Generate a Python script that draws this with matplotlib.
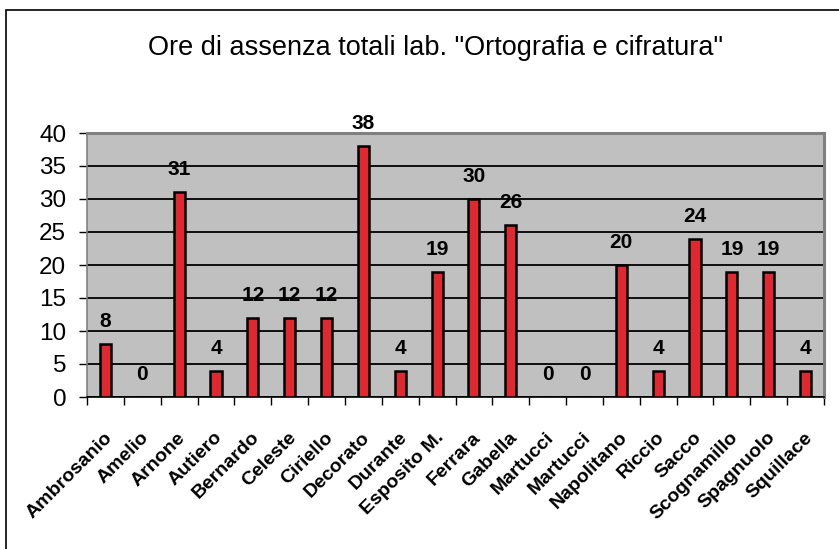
import matplotlib
matplotlib.use("Agg")
import matplotlib.pyplot as plt
from matplotlib.patches import Rectangle
import numpy as np

names = ["Ambrosanio", "Amelio", "Arnone", "Autiero", "Bernardo", "Celeste",
         "Ciriello", "Decorato", "Durante", "Esposito M.", "Ferrara", "Gabella",
         "Martucci", "Martucci", "Napolitano", "Riccio", "Sacco", "Scognamillo",
         "Spagnuolo", "Squillace"]
values = [8, 0, 31, 4, 12, 12, 12, 38, 4, 19, 30, 26, 0, 0, 20, 4, 24, 19, 19, 4]
yticks = [0, 5, 10, 15, 20, 25, 30, 35, 40]
title = 'Ore di assenza totali lab. "Ortografia e cifratura"'

plt.rcParams['font.family'] = ['Liberation Sans', 'DejaVu Sans']

W, H = 839, 549
fig = plt.figure(figsize=(W / 100, H / 100), dpi=100)
ax = fig.add_axes([87 / W, 1 - 397 / H, (824 - 87) / W, (397 - 133) / H])

# outer chart frame
fig.patches.append(Rectangle((6 / W, -0.1), 1.2, 1 - 10 / H + 0.1, transform=fig.transFigure,
                             fill=False, edgecolor='black', linewidth=1.2, clip_on=False))

x = np.arange(len(values))
ax.set_facecolor('#C0C0C0')
ax.set_axisbelow(True)
ax.yaxis.grid(True, color='black', linewidth=1.3)
bars = ax.bar(x, values, width=0.3, color='#DD2A32', edgecolor='black', linewidth=1.8, zorder=3)

for xi, v in zip(x, values):
    ax.annotate(str(v), (xi, v), xytext=(0, 13), textcoords='offset pixels',
                ha='center', va='bottom', fontsize=15, fontweight='bold',
                fontfamily=['Liberation Sans Narrow', 'Liberation Sans'], zorder=4)

ax.set_xlim(-0.5, len(values) - 0.5)
ax.set_ylim(0, 40)
ax.set_yticks(yticks)
ax.set_yticklabels([str(t) for t in yticks], fontsize=17.5)
ax.tick_params(axis='y', length=6, width=1, color='black', pad=9)

ax.set_xticks(np.arange(len(values) + 1) - 0.5)
ax.set_xticklabels([])
ax.tick_params(axis='x', length=6, width=1, color='black')
for xi, n in zip(x, names):
    ax.annotate(n, (xi, 0), xytext=(4, -38), textcoords='offset pixels',
                ha='right', va='center', rotation=45, rotation_mode='anchor',
                fontsize=14, fontweight='bold', annotation_clip=False)

for s in ['top', 'right']:
    ax.spines[s].set_color('#808080')
    ax.spines[s].set_linewidth(2.2)
ax.spines['left'].set_color('#808080')
ax.spines['left'].set_linewidth(1.2)
ax.spines['bottom'].set_color('black')
ax.spines['bottom'].set_linewidth(1.2)

fig.text(435 / W, 1 - 48 / H, title, ha='center', va='center', fontsize=19.5)

fig.savefig('out.png', dpi=100)
